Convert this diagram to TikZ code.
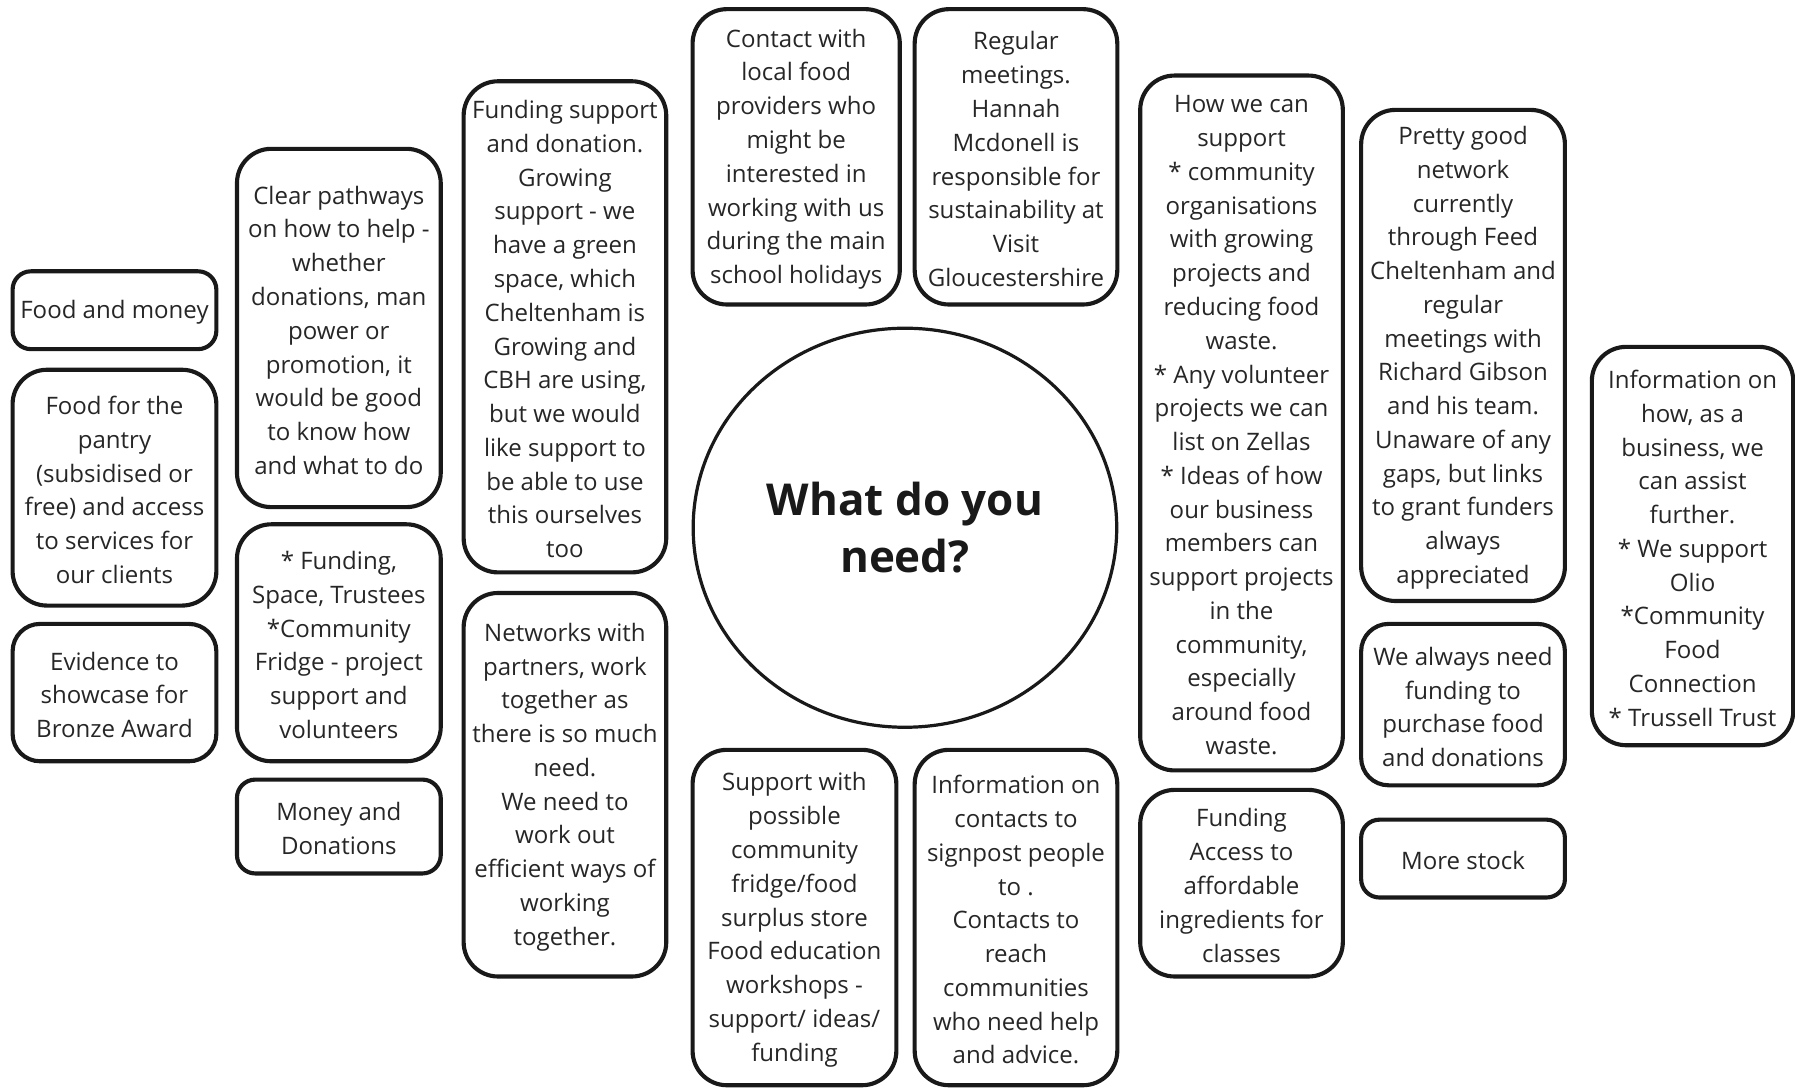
\documentclass[tikz,border=0pt]{standalone}
\usepackage{fontspec}
\setmainfont{Open Sans}
\usetikzlibrary{shapes.geometric}
\tikzset{
  card/.style={draw=black!90, line width=1.8pt, rounded corners=15pt, inner sep=0pt},
  smallcard/.style={card, rounded corners=8pt},
  midcard/.style={card, rounded corners=12pt},
  cardtext/.style={align=center, inner sep=0pt, yshift=-1pt,
    font=\fontsize{10.5pt}{14.75pt}\selectfont, text=black!85},
  hub/.style={draw=black!90, line width=1.4pt, ellipse, inner sep=0pt, align=center,
    font=\fontsize{19.2pt}{25pt}\selectfont\bfseries, text=black!90}
}
% #1 style, #2 name, #3 centre, #4 width, #5 height, #6 text
\newcommand\mkcard[6]{%
  \node[#1, minimum width=#4, minimum height=#5, label={[cardtext]center:{#6}}] (#2) at (#3) {};}
\begin{document}
\begin{tikzpicture}[x=0.5pt,y=-0.5pt]
\useasboundingbox (0,0) rectangle (1568,951);
% left column
\mkcard{smallcard}{a1}{100,271}{89pt}{34pt}{Food and money}
\mkcard{card}{a2}{100,426}{89pt}{103pt}{Food for the\\pantry\\(subsidised or\\free) and access\\to services for\\our clients}
\mkcard{midcard}{a3}{100,605}{89pt}{60pt}{Evidence to\\showcase for\\Bronze Award}
% second column
\mkcard{card}{b1}{296,286.5}{89pt}{156.5pt}{Clear pathways\\on how to help -\\whether\\donations, man\\power or\\promotion, it\\would be good\\to know how\\and what to do}
\mkcard{card}{b2}{296,561.5}{89pt}{103.5pt}{* Funding,\\Space, Trustees\\*Community\\Fridge - project\\support and\\volunteers}
\mkcard{smallcard}{b3}{296,722}{89pt}{41pt}{Money and\\Donations}
% third column
\mkcard{card}{c1}{493.5,285.5}{88.5pt}{214.5pt}{Funding support\\and donation.\\Growing\\support - we\\have a green\\space, which\\Cheltenham is\\Growing and\\CBH are using,\\but we would\\like support to\\be able to use\\this ourselves\\too}
\mkcard{card}{c2}{493.5,685.5}{88.5pt}{167.5pt}{Networks with\\partners, work\\together as\\there is so much\\need.\\We need to\\work out\\efficient ways of\\working\\together.}
% centre column
\mkcard{card}{d1}{695.5,137}{90.5pt}{129pt}{Contact with\\local food\\providers who\\might be\\interested in\\working with us\\during the main\\school holidays}
\mkcard{card}{d2}{887.5,137}{88.5pt}{129pt}{Regular\\meetings.\\Hannah\\Mcdonell is\\responsible for\\sustainability at\\Visit\\Gloucestershire}
\node[hub, minimum width=185pt, minimum height=174.3pt] (hub) at (790.5,461) {What do you\\need?};
\mkcard{card}{d3}{694,801.5}{89pt}{146.5pt}{Support with\\possible\\community\\fridge/food\\surplus store\\Food education\\workshops -\\support/ ideas/\\funding}
\mkcard{card}{d4}{887.5,801.5}{88.5pt}{146.5pt}{Information on\\contacts to\\signpost people\\to .\\Contacts to\\reach\\communities\\who need help\\and advice.}
% right columns
\mkcard{card}{e1}{1084.5,369.5}{88.5pt}{303.5pt}{How we can\\support\\* community\\organisations\\with growing\\projects and\\reducing food\\waste.\\* Any volunteer\\projects we can\\list on Zellas\\* Ideas of how\\our business\\members can\\support projects\\in the\\community,\\especially\\around food\\waste.}
\mkcard{card}{e2}{1084.5,771.5}{88.5pt}{81.5pt}{Funding\\Access to\\affordable\\ingredients for\\classes}
\mkcard{card}{f1}{1278,310.5}{89pt}{214.5pt}{Pretty good\\network\\currently\\through Feed\\Cheltenham and\\regular\\meetings with\\Richard Gibson\\and his team.\\Unaware of any\\gaps, but links\\to grant funders\\always\\appreciated}
\mkcard{midcard}{f2}{1278,615.5}{89pt}{70.5pt}{We always need\\funding to\\purchase food\\and donations}
\mkcard{smallcard}{f3}{1278,750}{89pt}{34pt}{More stock}
\mkcard{card}{g1}{1478.5,477}{88pt}{174pt}{Information on\\how, as a\\business, we\\can assist\\further.\\* We support\\Olio\\*Community\\Food\\Connection\\* Trussell Trust}
\end{tikzpicture}
\end{document}
